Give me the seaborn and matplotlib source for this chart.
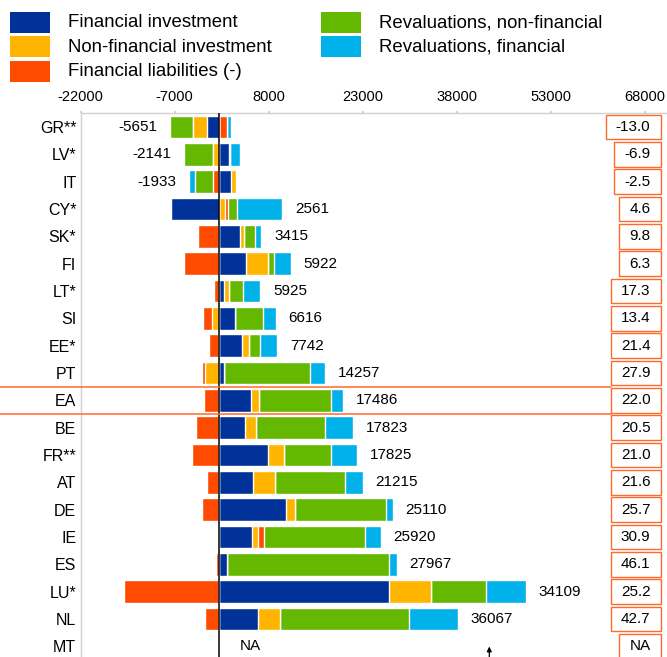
import numpy as np
import pandas as pd
import matplotlib
matplotlib.use("Agg")
import matplotlib.pyplot as plt
import matplotlib.transforms as mtransforms
from matplotlib.patches import Rectangle, FancyArrowPatch
from matplotlib.lines import Line2D
import seaborn as sns

# ---------------- data ----------------
countries = ["GR**", "LV*", "IT", "CY*", "SK*", "FI", "LT*", "SI", "EE*", "PT",
             "EA", "BE", "FR**", "AT", "DE", "IE", "ES", "LU*", "NL", "MT"]
financial_investment = [-1860, 1640, 2070, -7530, 3500, 4400, 800, 2700, 3760, 950,
                        5250, 4190, 7840, 5460, 10710, 5350, 1380, 27240, 6250, np.nan]
nonfinancial_investment = [-2280, -950, 740, 1060, 640, 3550, 950, -1110, 1170, -2230,
                           1270, 1800, 2650, 3600, 1540, 900, 0, 6680, 3500, np.nan]
financial_liabilities = [1430, 150, -800, 530, -3340, -5570, -740, -1330, -1590, -480,
                         -2390, -3660, -4290, -1910, -2700, 1010, -480, -15100, -2230, np.nan]
revaluations_nonfin = [-3580, -4560, -2990, 1430, 1700, 850, 2230, 4350, 1750, 13620,
                       11340, 11020, 7470, 11130, 14470, 16060, 25860, 8750, 20670, np.nan]
revaluations_fin = [640, 1590, -950, 7160, 1010, 2760, 2700, 2070, 2700, 2440,
                    2010, 4450, 4190, 2860, 1110, 2600, 1220, 6410, 7740, np.nan]
total_labels = ["-5651", "-2141", "-1933", "2561", "3415", "5922", "5925", "6616", "7742", "14257",
                "17486", "17823", "17825", "21215", "25110", "25920", "27967", "34109", "36067", "NA"]
ratio_labels = ["-13.0", "-6.9", "-2.5", "4.6", "9.8", "6.3", "17.3", "13.4", "21.4", "27.9",
                "22.0", "20.5", "21.0", "21.6", "25.7", "30.9", "46.1", "25.2", "42.7", "NA"]
series_names = ["Financial investment", "Non-financial investment", "Financial liabilities (-)",
                "Revaluations, non-financial", "Revaluations, financial"]
x_ticks = [-22000, -7000, 8000, 23000, 38000, 53000, 68000]

series_colors = ["#003299", "#FFB400", "#FF4B00", "#65B800", "#00B1EA"]
box_color = "#FF6A2B"

# ---------------- figure ----------------
sns.set_theme(style="white")
plt.rcParams['font.family'] = ['Liberation Sans', 'DejaVu Sans']

W, H = 667, 657
fig = plt.figure(figsize=(W / 100, H / 100), dpi=100)
ax_left_px, ax_top_px = 80.5, 113.3
ax = fig.add_axes([ax_left_px / W, 0, 1 - ax_left_px / W, 1 - ax_top_px / H])

df = pd.DataFrame({
    series_names[0]: financial_investment,
    series_names[1]: nonfinancial_investment,
    series_names[2]: financial_liabilities,
    series_names[3]: revaluations_nonfin,
    series_names[4]: revaluations_fin,
}, index=countries).fillna(0)
pos = df.clip(lower=0).cumsum(axis=1)
neg = df.clip(upper=0).cumsum(axis=1)

for k in reversed(range(len(series_names))):
    for cum in (pos, neg):
        sns.barplot(x=cum.iloc[:, k].values, y=countries, order=countries, orient="h",
                    color=series_colors[k], saturation=1, width=0.83, errorbar=None, ax=ax)

px_per_unit = 94.1 / 15000
x_right = -22000 + (W - ax_left_px) / px_per_unit
ax.set_xlim(-22000, x_right)
ax.set_ylim(19.385, -0.501)

ax.axvline(0, color="black", lw=1.1, zorder=5)

ax.xaxis.tick_top()
ax.set_xticks(x_ticks)
ax.set_xticklabels([str(t) for t in x_ticks])
ax.tick_params(axis="x", top=True, bottom=False, length=1.5, color="#C8C8C8",
               pad=5.5, labelsize=10.5, labelcolor="black")
ax.tick_params(axis="y", length=0, pad=3, labelsize=11.5, labelcolor="black")
ax.set_xlabel("")
ax.set_ylabel("")
for s in ["right", "bottom"]:
    ax.spines[s].set_visible(False)
for s in ["top", "left"]:
    ax.spines[s].set_color("#D0D0D0")
    ax.spines[s].set_linewidth(1.0)

# total labels
for i, t in enumerate(total_labels):
    if t == "NA":
        x, off, ha = 0, 15, "left"
    elif float(t) >= 0:
        x, off, ha = pos.iloc[i, -1], 9, "left"
    else:
        x, off, ha = neg.iloc[i, -1], -9, "right"
    ax.annotate(t, (x, i), xytext=(off, 0), textcoords="offset points",
                ha=ha, va="center", fontsize=11, color="black")

# right-hand boxed values
trans = mtransforms.blended_transform_factory(fig.transFigure, ax.transData)
texts = []
for i, s in enumerate(ratio_labels):
    texts.append(ax.text(650.5 / W, i, s, transform=trans, ha="right", va="center",
                         fontsize=11, color="black", zorder=7))
fig.canvas.draw()
renderer = fig.canvas.get_renderer()
for i, t in enumerate(texts):
    bb = t.get_window_extent(renderer)
    x0 = (bb.x0 - 10) / W
    x1 = 661 / W
    rect = Rectangle((x0, i - 0.45), x1 - x0, 0.9, transform=trans, facecolor="white",
                     edgecolor=box_color, lw=1.0, clip_on=False, zorder=6)
    ax.add_artist(rect)

# EA separator lines
ea = countries.index("EA")
for yy in (ea - 0.5, ea + 0.5):
    fig.add_artist(Line2D([0, 611 / W], [yy, yy], transform=trans, color=box_color,
                          lw=1.1, clip_on=False, zorder=6))

# legend (manual)
leg_rows = [(10, 11.7, 0), (10, 36.0, 1), (10, 61.0, 2), (321, 11.7, 3), (321, 36.0, 4)]
for (lx, ly, k) in leg_rows:
    fig.add_artist(Rectangle((lx / W, 1 - (ly + 21) / H), 40 / W, 21 / H,
                             transform=fig.transFigure, facecolor=series_colors[k],
                             edgecolor="none"))
    fig.text((lx + 58.3) / W, 1 - (ly + 11) / H, series_names[k], ha="left", va="center",
             fontsize=13.4, color="black")

# small arrow near the bottom
fig.add_artist(FancyArrowPatch((489.3 / W, 0.0), (489.3 / W, 1 - 646.5 / H),
                               transform=fig.transFigure, arrowstyle="-|>",
                               mutation_scale=7, lw=0.9, color="black",
                               shrinkA=0, shrinkB=0))

fig.savefig("out.png", dpi=100)
